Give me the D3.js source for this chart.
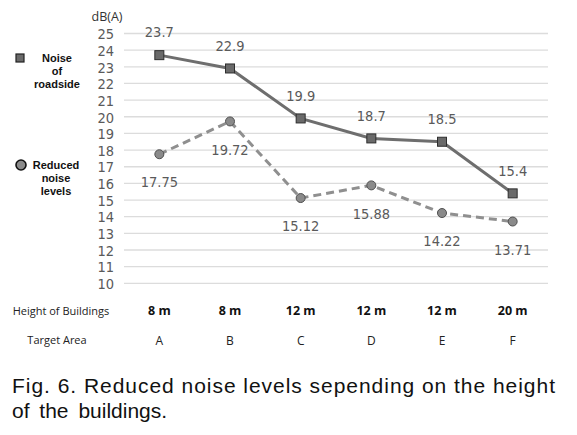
<!DOCTYPE html>
<html>
<head>
<meta charset="utf-8">
<script src="https://cdn.jsdelivr.net/npm/d3@7"></script>
<style>
  html, body { margin: 0; padding: 0; background: #fff; }
  svg { display: block; }
</style>
</head>
<body>
<svg id="chart" width="577" height="435"></svg>
<script>
const categories = ["A", "B", "C", "D", "E", "F"];
const heights = ["8 m", "8 m", "12 m", "12 m", "12 m", "20 m"];
const roadside = [23.7, 22.9, 19.9, 18.7, 18.5, 15.4];
const reduced = [17.75, 19.72, 15.12, 15.88, 14.22, 13.71];
const roadsideLabels = ["23.7", "22.9", "19.9", "18.7", "18.5", "15.4"];
const reducedLabels = ["17.75", "19.72", "15.12", "15.88", "14.22", "13.71"];
const yTicks = d3.range(10, 26, 1);

const svg = d3.select("#chart");
const narrow = "'DejaVu Sans Condensed', 'Liberation Sans Narrow', sans-serif";
const sans = "'Open Sans', 'Noto Sans', 'Liberation Sans', sans-serif";
const bold = "'Liberation Sans', Arial, sans-serif";

const x = d3.scalePoint().domain(categories).range([124, 548]).padding(0.5);
const y = d3.scaleLinear().domain([10, 25]).range([283.3, 33.5]);

// gridlines
svg.append("g").selectAll("line").data(yTicks).join("line")
  .attr("x1", 124).attr("x2", 548)
  .attr("y1", d => y(d)).attr("y2", d => y(d))
  .attr("stroke", "#dcdcdc").attr("stroke-width", 1.3);

// y axis labels
const yAxis = d3.axisLeft(y).tickValues(yTicks).tickSize(0).tickPadding(0);
const ya = svg.append("g").attr("transform", "translate(114,0)").call(yAxis);
ya.select(".domain").remove();
ya.selectAll("text").attr("font-family", narrow).attr("font-size", 14.5)
  .attr("fill", "#5a5a5a").attr("dy", "0.36em");

svg.append("text").attr("x", 107).attr("y", 21).attr("text-anchor", "middle")
  .attr("font-family", sans).attr("font-size", 12.5).attr("fill", "#333").text("dB(A)");

// lines
const line = d3.line().x((d, i) => x(categories[i])).y(d => y(d));
svg.append("path").datum(roadside).attr("d", line)
  .attr("fill", "none").attr("stroke", "#6e6e6e").attr("stroke-width", 3);
svg.append("path").datum(reduced).attr("d", line)
  .attr("fill", "none").attr("stroke", "#8f8f8f").attr("stroke-width", 3)
  .attr("stroke-dasharray", "8,5");

// markers
svg.append("g").selectAll("rect").data(roadside).join("rect")
  .attr("x", (d, i) => x(categories[i]) - 4.5).attr("y", d => y(d) - 4.5)
  .attr("width", 9).attr("height", 9)
  .attr("fill", "#6a6a6a").attr("stroke", "#2e2e2e").attr("stroke-width", 1);
svg.append("g").selectAll("circle").data(reduced).join("circle")
  .attr("cx", (d, i) => x(categories[i])).attr("cy", d => y(d)).attr("r", 4.5)
  .attr("fill", "#8a8a8a").attr("stroke", "#505050").attr("stroke-width", 1);

// data labels
svg.append("g").selectAll("text").data(roadside).join("text")
  .attr("x", (d, i) => x(categories[i])).attr("y", d => y(d) - 23)
  .attr("dy", "0.36em").attr("text-anchor", "middle")
  .attr("font-family", narrow).attr("font-size", 14.5).attr("fill", "#5a5a5a")
  .text((d, i) => roadsideLabels[i]);
svg.append("g").selectAll("text").data(reduced).join("text")
  .attr("x", (d, i) => x(categories[i])).attr("y", d => y(d) + 28)
  .attr("dy", "0.36em").attr("text-anchor", "middle")
  .attr("font-family", narrow).attr("font-size", 14.5).attr("fill", "#5a5a5a")
  .text((d, i) => reducedLabels[i]);

// legend
svg.append("rect").attr("x", 16).attr("y", 54).attr("width", 8).attr("height", 8)
  .attr("fill", "#6a6a6a").attr("stroke", "#222").attr("stroke-width", 1.2);
svg.append("text").attr("text-anchor", "middle").attr("font-family", bold)
  .attr("font-size", 11).attr("font-weight", "bold").attr("fill", "#111")
  .selectAll("tspan").data(["Noise", "of", "roadside"]).join("tspan")
  .attr("x", 57).attr("y", (d, i) => 62 + i * 13).text(d => d);
svg.append("circle").attr("cx", 21).attr("cy", 165).attr("r", 5)
  .attr("fill", "#8a8a8a").attr("stroke", "#111").attr("stroke-width", 1.6);
svg.append("text").attr("text-anchor", "middle").attr("font-family", bold)
  .attr("font-size", 11).attr("font-weight", "bold").attr("fill", "#111")
  .selectAll("tspan").data(["Reduced", "noise", "levels"]).join("tspan")
  .attr("x", 56).attr("y", (d, i) => 169 + i * 13).text(d => d);

// bottom rows
svg.append("text").attr("x", 61).attr("y", 311).attr("dy", "0.35em")
  .attr("text-anchor", "middle").attr("font-family", sans).attr("font-size", 11)
  .attr("fill", "#222").text("Height of Buildings");
svg.append("text").attr("x", 57).attr("y", 340.5).attr("dy", "0.35em")
  .attr("text-anchor", "middle").attr("font-family", sans).attr("font-size", 11)
  .attr("fill", "#222").text("Target Area");
svg.append("g").selectAll("text").data(heights).join("text")
  .attr("x", (d, i) => x(categories[i])).attr("y", 311).attr("dy", "0.35em")
  .attr("text-anchor", "middle").attr("font-family", sans).attr("font-size", 12.5)
  .attr("font-weight", "bold").attr("fill", "#111").text(d => d);
svg.append("g").selectAll("text").data(categories).join("text")
  .attr("x", d => x(d)).attr("y", 341).attr("dy", "0.35em")
  .attr("text-anchor", "middle").attr("font-family", sans).attr("font-size", 12)
  .attr("fill", "#222").text(d => d);

// caption
svg.append("text").attr("x", 12).attr("y", 393)
  .attr("font-family", "'Liberation Sans', Arial, sans-serif").attr("font-size", 21)
  .attr("fill", "#111").attr("textLength", 543).attr("lengthAdjust", "spacing")
  .text("Fig. 6. Reduced noise levels sepending on the height");
svg.append("text").attr("x", 12).attr("y", 418)
  .attr("font-family", "'Liberation Sans', Arial, sans-serif").attr("font-size", 21)
  .attr("fill", "#111").attr("word-spacing", 4)
  .text("of the buildings.");
</script>
</body>
</html>
